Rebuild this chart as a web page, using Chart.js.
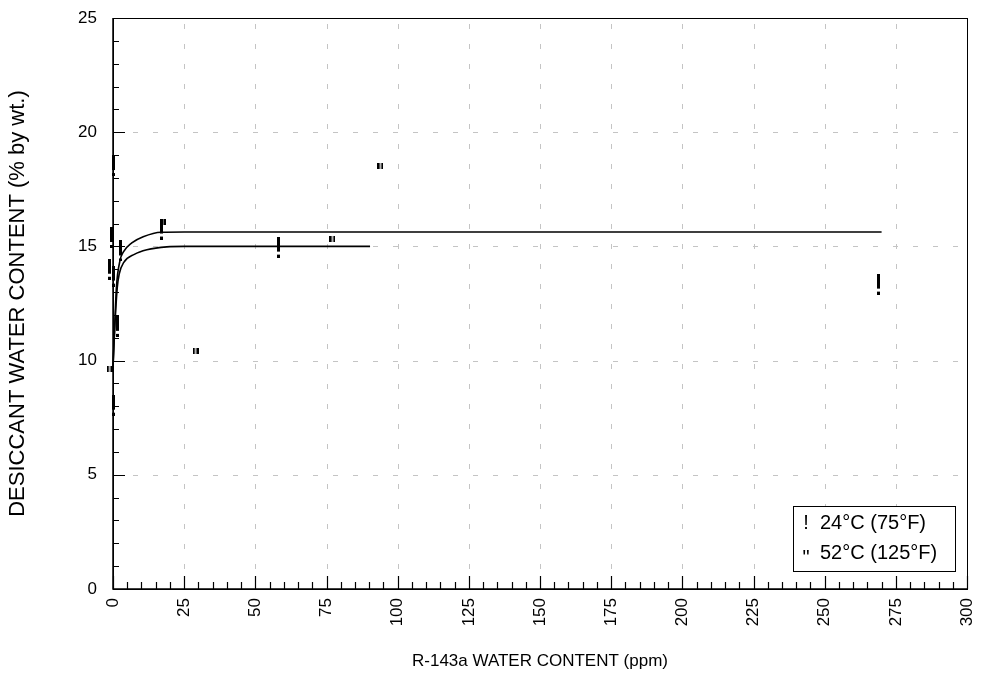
<!DOCTYPE html>
<html>
<head>
<meta charset="utf-8">
<script src="https://cdn.jsdelivr.net/npm/chart.js@4.4.0/dist/chart.umd.min.js"></script>
<style>
  html, body { margin: 0; padding: 0; background: #fff; }
  #wrap { width: 982px; height: 679px; }
</style>
</head>
<body>
<div id="wrap"><canvas id="chart" width="982" height="679"></canvas></div>
<script>
// measured points, 24°C (75°F)
const lowX = [0.1, -0.4, 2.8, -1.2, 0.0, 1.75, 0.35, 16.9, 58.0, 269.0];
const lowY = [18.54, 15.39, 14.8, 14.0, 13.7, 11.5, 8.05, 15.76, 14.97, 13.35];

// measured points, 52°C (125°F)
const highX = [93.96, 29.0, 77.1, 17.4, -1.2];
const highY = [18.52, 10.44, 15.32, 16.07, 9.63];

// fitted curves
const fitLowX = [0, 0.4, 1.2, 2.5, 3.6, 6.6, 10.6, 16.9, 25, 270];
const fitLowY = [9.7, 10.9, 13.2, 14.4, 14.75, 15.15, 15.42, 15.62, 15.63, 15.63];
const fitHighX = [0, 0.4, 1.5, 2.2, 3.8, 7.5, 11.9, 18.9, 25, 90.3];
const fitHighY = [9.7, 10.9, 13.2, 13.8, 14.3, 14.65, 14.85, 14.98, 15.0, 15.0];

const legendLabels = ['24°C (75°F)', '52°C (125°F)'];
const legendGlyphs = ['!', '"'];

const FONT = "'Liberation Sans', Arial, sans-serif";

function pts(xs, ys) {
    return xs.map((x, i) => ({ x: x, y: ys[i] }));
}

// marker images ("!" and '"')
function bangGlyph() {
    const c = document.createElement('canvas');
    c.width = 3; c.height = 21;
    const g = c.getContext('2d');
    g.fillStyle = '#000';
    g.fillRect(0, 0, 3, 15);
    g.fillRect(0, 18, 3, 3);
    return c;
}
function quoteGlyph() {
    const c = document.createElement('canvas');
    c.width = 6; c.height = 6;
    const g = c.getContext('2d');
    g.fillStyle = '#000';
    g.fillRect(0, 0, 2.3, 6);
    g.fillRect(3.7, 0, 2.3, 6);
    return c;
}

const framePlugin = {
    id: 'frame',
    beforeDatasetsDraw(chart) {
        const { ctx, chartArea: a, scales: { x, y } } = chart;
        ctx.save();
        // dashed grid on major ticks
        ctx.strokeStyle = '#c4c4c4';
        ctx.lineWidth = 1;
        ctx.setLineDash([5, 15]);
        x.ticks.forEach(t => {
            if (t.value <= x.min || t.value >= x.max) return;
            const px = Math.round(x.getPixelForValue(t.value)) + 0.5;
            ctx.beginPath(); ctx.moveTo(px, a.bottom); ctx.lineTo(px, a.top); ctx.stroke();
        });
        y.ticks.forEach(t => {
            if (t.value <= y.min || t.value >= y.max) return;
            const py = Math.round(y.getPixelForValue(t.value)) + 0.5;
            ctx.beginPath(); ctx.moveTo(a.left, py); ctx.lineTo(a.right, py); ctx.stroke();
        });
        ctx.setLineDash([]);

        // box
        ctx.strokeStyle = '#000';
        ctx.lineWidth = 1;
        ctx.strokeRect(Math.round(a.left) + 0.5, Math.round(a.top) + 0.5, Math.round(a.width), Math.round(a.height));

        // inner tick marks
        ctx.lineWidth = 1.2;
        ctx.beginPath();
        for (let v = 0; v <= 25; v += 1) {
            const py = Math.round(y.getPixelForValue(v)) + 0.5;
            const len = v % 5 === 0 ? 12 : 6;
            ctx.moveTo(a.left, py); ctx.lineTo(a.left + len, py);
        }
        for (let v = 0; v <= 300; v += 5) {
            const px = Math.round(x.getPixelForValue(v)) + 0.5;
            const len = v % 25 === 0 ? 13 : 7;
            ctx.moveTo(px, a.bottom); ctx.lineTo(px, a.bottom - len);
        }
        ctx.stroke();
        ctx.beginPath();
        ctx.lineWidth = 1.5;
        ctx.moveTo(a.left, a.top); ctx.lineTo(a.left, a.bottom); ctx.lineTo(a.right, a.bottom);
        ctx.stroke();
        ctx.restore();
    },
    afterDraw(chart) {
        const { ctx, chartArea: a } = chart;
        const bx = a.right - 174, by = a.bottom - 83, bw = 162, bh = 65;
        ctx.save();
        ctx.fillStyle = '#fff';
        ctx.fillRect(bx, by, bw, bh);
        ctx.strokeStyle = '#000';
        ctx.lineWidth = 1;
        ctx.strokeRect(bx + 0.5, by + 0.5, bw, bh);
        ctx.fillStyle = '#000';
        ctx.textBaseline = 'middle';
        legendLabels.forEach((lab, i) => {
            const cy = by + 17 + i * 30;
            ctx.font = '20px ' + FONT;
            ctx.textAlign = 'center';
            ctx.fillText(legendGlyphs[i], bx + 13, cy + (i === 1 ? 5 : 0));
            ctx.textAlign = 'left';
            ctx.fillText(lab, bx + 27, cy);
        });
        ctx.restore();
    }
};

const ctx = document.getElementById('chart').getContext('2d');
const chart = new Chart(ctx, {
    type: 'scatter',
    data: {
        datasets: [
            {
                label: 'fit 24',
                data: pts(fitLowX, fitLowY),
                showLine: true,
                borderColor: '#000',
                borderWidth: 1.6,
                pointRadius: 0,
                cubicInterpolationMode: 'monotone',
                clip: false
            },
            {
                label: 'fit 52',
                data: pts(fitHighX, fitHighY),
                showLine: true,
                borderColor: '#000',
                borderWidth: 1.6,
                pointRadius: 0,
                cubicInterpolationMode: 'monotone',
                clip: false
            },
            {
                label: legendLabels[0],
                data: pts(lowX, lowY),
                pointStyle: bangGlyph(),
                pointRadius: 5,
                clip: false
            },
            {
                label: legendLabels[1],
                data: pts(highX, highY),
                pointStyle: quoteGlyph(),
                pointRadius: 5,
                clip: false
            }
        ]
    },
    options: {
        responsive: false,
        animation: false,
        layout: { padding: { top: 18, right: 15, left: 0, bottom: 0 } },
        plugins: {
            legend: { display: false },
            tooltip: { enabled: false }
        },
        scales: {
            x: {
                type: 'linear',
                min: 0,
                max: 300,
                grid: { display: false, drawTicks: false },
                border: { display: false },
                ticks: {
                    stepSize: 25,
                    autoSkip: false,
                    maxRotation: 90,
                    minRotation: 90,
                    padding: 9,
                    color: '#000',
                    font: { family: FONT, size: 17 }
                },
                title: {
                    display: true,
                    text: 'R-143a WATER CONTENT (ppm)',
                    color: '#000',
                    font: { family: FONT, size: 17 },
                    padding: { top: 0, bottom: 7 }
                },
                afterFit(scale) {
                    scale.height = 90;
                    scale.paddingLeft = 0;
                    scale.paddingRight = 0;
                }
            },
            y: {
                type: 'linear',
                min: 0,
                max: 25,
                grid: { display: false, drawTicks: false },
                border: { display: false },
                ticks: {
                    stepSize: 5,
                    padding: 16,
                    color: '#000',
                    font: { family: FONT, size: 17 }
                },
                title: {
                    display: true,
                    text: 'DESICCANT WATER CONTENT (% by wt.)',
                    color: '#000',
                    font: { family: FONT, size: 22 },
                    padding: { top: 5, bottom: 0 }
                },
                afterFit(scale) {
                    scale.width = 113;
                    scale.paddingTop = 0;
                    scale.paddingBottom = 0;
                }
            }
        }
    },
    plugins: [framePlugin]
});
</script>
</body>
</html>
